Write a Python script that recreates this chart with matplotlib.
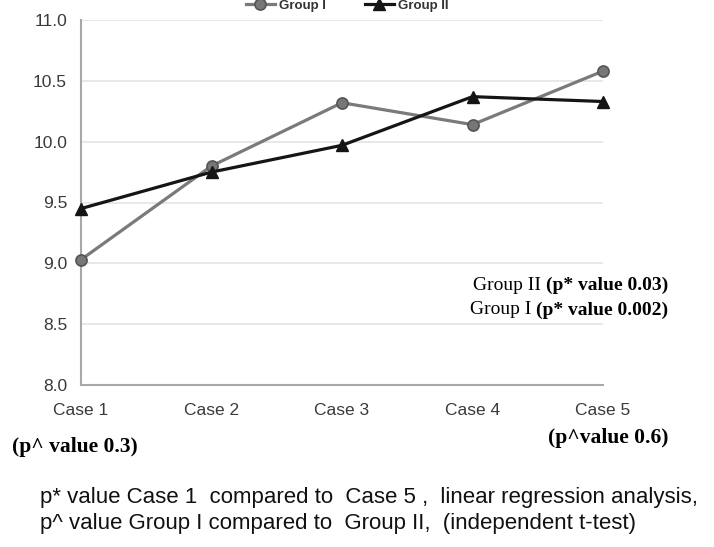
import matplotlib
matplotlib.use("Agg")
import matplotlib.pyplot as plt

cases = ["Case 1", "Case 2", "Case 3", "Case 4", "Case 5"]
group1 = [9.03, 9.80, 10.32, 10.14, 10.58]
group2 = [9.45, 9.75, 9.97, 10.37, 10.33]
yticks = [8.0, 8.5, 9.0, 9.5, 10.0, 10.5, 11.0]

SANS = ["Liberation Sans", "DejaVu Sans"]
SERIF = ["Liberation Serif", "DejaVu Serif"]

fig = plt.figure(figsize=(7.14, 5.47), dpi=100)
ax = fig.add_axes([81 / 714, 1 - 385 / 547, (603 - 81) / 714, (385 - 20) / 547])

x = range(len(cases))
ax.plot(x, group1, color="#7a7a7a", lw=2.3, marker="o", ms=8, clip_on=False,
        mfc="#777777", mec="#555555", mew=1.2, label="Group I", zorder=3)
ax.plot(x, group2, color="#151515", lw=2.3, marker="^", ms=8, clip_on=False,
        mfc="#151515", mec="#151515", label="Group II", zorder=3)

ax.set_ylim(8.0, 11.0)
ax.set_xlim(0, 4)
ax.set_yticks(yticks)
ax.set_yticklabels(["%.1f" % v for v in yticks])
ax.set_xticks(list(x))
ax.set_xticklabels(cases)
ax.grid(axis="y", color="#e4e4e4", lw=1.2)
ax.set_axisbelow(True)
for s in ["top", "right"]:
    ax.spines[s].set_visible(False)
for s in ["left", "bottom"]:
    ax.spines[s].set_color("#a8a8a8")
    ax.spines[s].set_linewidth(1.5)
ax.tick_params(axis="y", length=0, labelsize=12.5, colors="#3a3a3a", pad=10)
ax.tick_params(axis="x", length=0, labelsize=12.5, colors="#3a3a3a", pad=13)
for lab in ax.get_xticklabels() + ax.get_yticklabels():
    lab.set_family(SANS)

# legend sits at the very top edge, partly cut like the original
leg = fig.legend(loc="center", bbox_to_anchor=(347 / 714, 1 - 6 / 547), ncol=2,
                 frameon=False, prop={"family": SANS, "size": 9.5, "weight": "bold"},
                 handlelength=2.2, columnspacing=3.0, borderaxespad=0, handletextpad=0.3)
for t in leg.get_texts():
    t.set_color("#333333")

# p* annotations, mixed weight
b1 = fig.text(668 / 714, 1 - 285 / 547, "(p* value 0.03)", ha="right", va="center",
              family=SERIF, weight="bold", fontsize=14)
ax.annotate("Group II ", xy=(0, 0.5), xycoords=b1, ha="right", va="center",
            family=SERIF, fontsize=14)
b2 = fig.text(668 / 714, 1 - 310 / 547, "(p* value 0.002)", ha="right", va="center",
              family=SERIF, weight="bold", fontsize=14)
ax.annotate("Group I ", xy=(0, 0.5), xycoords=b2, ha="right", va="center",
            family=SERIF, fontsize=14)

fig.text(12 / 714, 1 - 447 / 547, "(p^ value 0.3)", ha="left", va="center",
         family=SERIF, weight="bold", fontsize=15.5)
fig.text(668 / 714, 1 - 438 / 547, "(p^value 0.6)", ha="right", va="center",
         family=SERIF, weight="bold", fontsize=15.5)

fig.text(40 / 714, 1 - 497 / 547,
         "p* value Case 1  compared to  Case 5 ,  linear regression analysis,",
         ha="left", va="center", family=SANS, fontsize=16, color="#111111")
fig.text(40 / 714, 1 - 524 / 547,
         "p^ value Group I compared to  Group II,  (independent t-test)",
         ha="left", va="center", family=SANS, fontsize=16, color="#111111")

fig.savefig("out.png", dpi=100)
